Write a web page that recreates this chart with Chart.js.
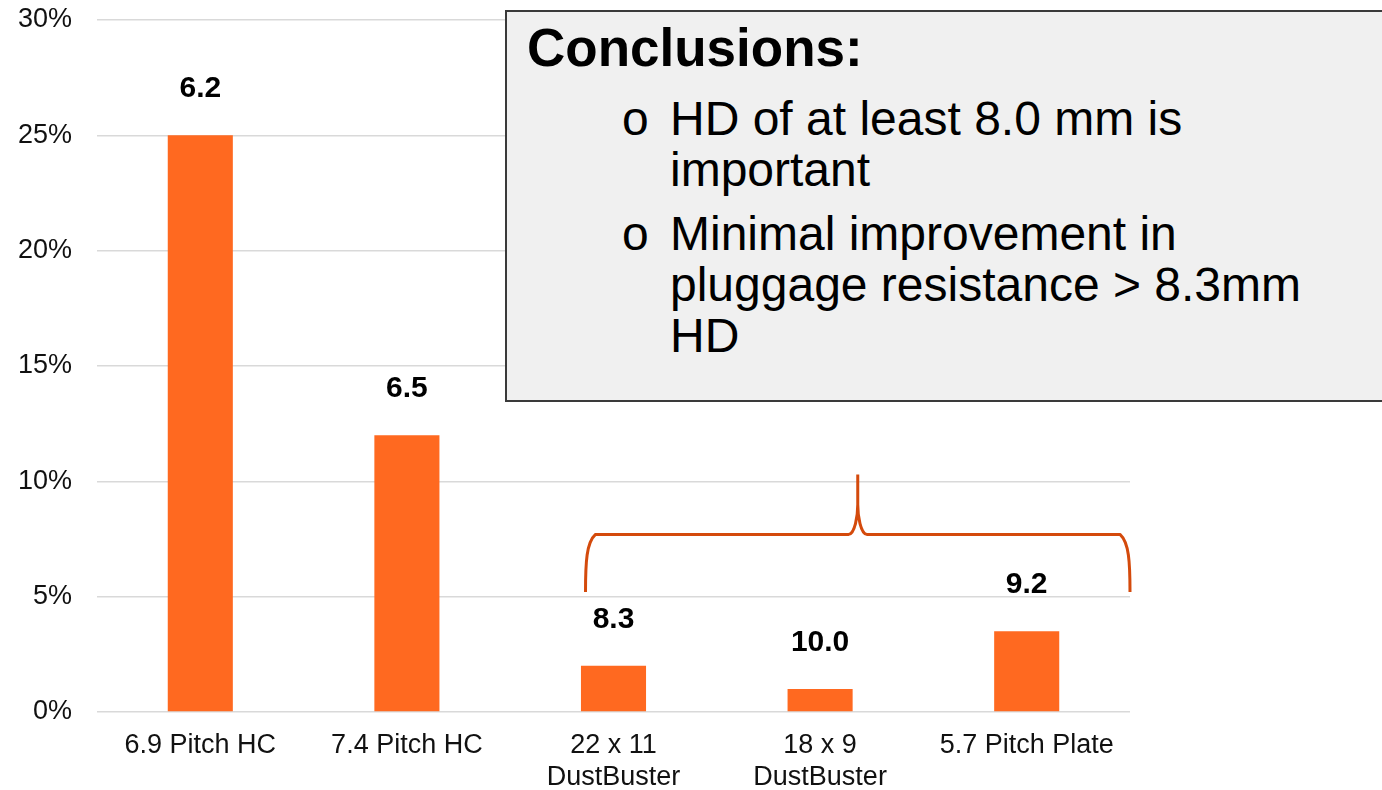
<!DOCTYPE html>
<html>
<head>
<meta charset="utf-8">
<script src="https://cdn.jsdelivr.net/npm/chart.js@4/dist/chart.umd.min.js"></script>
<style>
  html, body { margin: 0; padding: 0; background: #ffffff; }
  #wrap { position: relative; width: 1382px; height: 790px; overflow: hidden; font-family: "Liberation Sans", Arial, sans-serif; }
  #chart { position: absolute; left: 0; top: 0; }
  #notes {
    position: absolute; left: 505px; top: 10px; width: 960px; height: 392px;
    box-sizing: border-box; border: 2px solid #3a3a3a; background: #f0f0f0; color: #000;
  }
  #notes .title { position: absolute; left: 20px; top: 6px; font-weight: bold; font-size: 53px; line-height: 60px; white-space: nowrap; }
  #notes .item { position: absolute; left: 115px; font-size: 48px; line-height: 51px; white-space: nowrap; }
  #notes .item .dot { position: absolute; left: 0; top: 0; }
  #notes .item .txt { position: absolute; left: 48px; top: 0; }
</style>
</head>
<body>
<div id="wrap">
  <canvas id="chart" width="1382" height="790"></canvas>
  <div id="notes">
    <div class="title">Conclusions:</div>
    <div class="item" style="top:81px"><span class="dot">o</span><span class="txt">HD of at least 8.0 mm is<br>important</span></div>
    <div class="item" style="top:196px"><span class="dot">o</span><span class="txt">Minimal improvement in<br>pluggage resistance &gt; 8.3mm<br>HD</span></div>
  </div>
</div>
<script>
// Heat-exchange geometries
const categories = [
  ['6.9 Pitch HC'],
  ['7.4 Pitch HC'],
  ['22 x 11', 'DustBuster'],
  ['18 x 9', 'DustBuster'],
  ['5.7 Pitch Plate']
];
// Pluggage (%) per geometry
const pluggage = [25, 12, 2, 1, 3.5];
// Hydraulic diameter (mm) printed above each bar
const hdLabels = ['6.2', '6.5', '8.3', '10.0', '9.2'];
// Y axis ticks (%)
const yTicks = [0, 5, 10, 15, 20, 25, 30];

const FONT = '"Liberation Sans", Arial, sans-serif';
Chart.defaults.font.family = FONT;
Chart.defaults.color = '#111';

// Bold HD value above each bar
const hdLabelPlugin = {
  id: 'hdLabels',
  afterDatasetsDraw(chart) {
    const ctx = chart.ctx;
    const meta = chart.getDatasetMeta(0);
    ctx.save();
    ctx.font = 'bold 30px ' + FONT;
    ctx.fillStyle = '#000';
    ctx.textAlign = 'center';
    ctx.textBaseline = 'alphabetic';
    meta.data.forEach((bar, i) => {
      ctx.fillText(hdLabels[i], bar.x, bar.y - 38);
    });
    ctx.restore();
  }
};

// Curly brace grouping the three larger-HD geometries
const bracePlugin = {
  id: 'groupBrace',
  afterDatasetsDraw(chart) {
    const xs = chart.scales.x, ys = chart.scales.y;
    const left = xs.getPixelForValue(2) - 28;
    const right = chart.chartArea.right;
    const mid = (left + right) / 2;
    const yEnd = ys.getPixelForValue(5.2);
    const yBar = ys.getPixelForValue(7.7);
    const yTip = ys.getPixelForValue(10.3);
    const ctx = chart.ctx;
    ctx.save();
    ctx.strokeStyle = '#d44a0c';
    ctx.lineWidth = 3;
    ctx.lineJoin = 'round';
    ctx.lineCap = 'butt';
    ctx.beginPath();
    ctx.moveTo(left, yEnd);
    ctx.bezierCurveTo(left, yEnd - 30, left + 1, yBar + 8, left + 10, yBar);
    ctx.lineTo(mid - 9, yBar);
    ctx.bezierCurveTo(mid - 3, yBar - 1, mid, yBar - 18, mid, yBar - 30);
    ctx.lineTo(mid, yTip);
    ctx.moveTo(mid, yBar - 30);
    ctx.bezierCurveTo(mid, yBar - 18, mid + 3, yBar - 1, mid + 9, yBar);
    ctx.lineTo(right - 10, yBar);
    ctx.bezierCurveTo(right - 1, yBar + 8, right, yEnd - 30, right, yEnd);
    ctx.stroke();
    ctx.restore();
  }
};

new Chart(document.getElementById('chart'), {
  type: 'bar',
  data: {
    labels: categories,
    datasets: [{
      data: pluggage,
      backgroundColor: '#ff6920',
      borderWidth: 0,
      barPercentage: 1,
      categoryPercentage: 0.315
    }]
  },
  options: {
    responsive: false,
    animation: false,
    devicePixelRatio: 1,
    layout: { padding: { left: 0, top: 20, right: 252, bottom: 0 } },
    plugins: { legend: { display: false }, tooltip: { enabled: false } },
    scales: {
      x: {
        grid: { display: false, drawTicks: false },
        border: { display: false },
        ticks: {
          font: { size: 27 },
          color: '#111',
          padding: 17,
          maxRotation: 0,
          autoSkip: false
        },
        afterFit(scale) { scale.height = 78; scale.paddingLeft = 0; scale.paddingRight = 0; }
      },
      y: {
        min: 0,
        max: 30,
        afterBuildTicks(scale) { scale.ticks = yTicks.map(v => ({ value: v })); },
        grid: { color: '#d9d9d9', lineWidth: 1.5, drawTicks: false },
        border: { display: false },
        ticks: {
          font: { size: 27 },
          color: '#111',
          padding: 25,
          callback: v => v + '%'
        },
        afterFit(scale) { scale.width = 97; scale.paddingTop = 0; scale.paddingBottom = 0; }
      }
    }
  },
  plugins: [hdLabelPlugin, bracePlugin]
});
</script>
</body>
</html>
